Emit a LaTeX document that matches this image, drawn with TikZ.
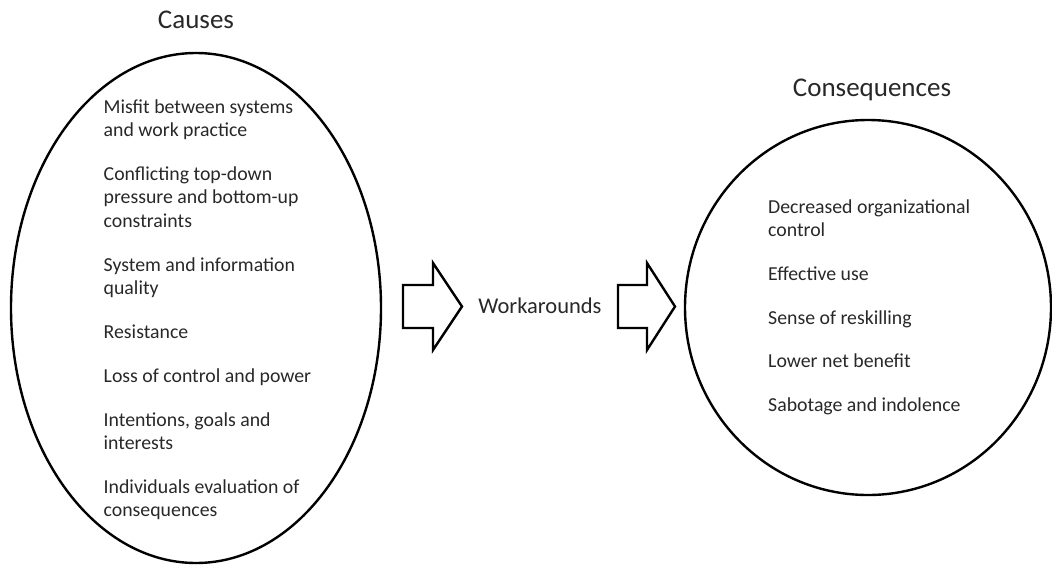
\documentclass[tikz,border=0pt]{standalone}
\usepackage{fontspec}
\setmainfont{Carlito}
\usetikzlibrary{shapes.geometric}
\definecolor{txt}{RGB}{40,40,40}
\begin{document}
\begin{tikzpicture}[x=1pt,y=-1pt,
  outline/.style={draw, ellipse, line width=2.4pt, inner sep=0pt},
  item/.style={anchor=base west, inner sep=0pt, align=left, text=txt,
    font=\fontsize{19.8}{23.5}\selectfont},
  heading/.style={anchor=base, inner sep=0pt, text=txt,
    font=\fontsize{27}{32}\selectfont},
  blockarrow/.style={draw, line width=2.4pt, line join=miter, fill=white}]
\useasboundingbox (0,0) rectangle (1052,565);
% containers
\node[outline, minimum width=370pt, minimum height=510pt] (causes) at (196,308) {};
\node[outline, minimum width=366pt, minimum height=375pt] (conseq) at (868,307.5) {};
% titles
\node[heading] (tcauses) at (196,28) {Causes};
\node[heading] (tconseq) at (872,96) {Consequences};
% causes (anchored at the baseline of the last line)
\node[item] (c1) at (103.5,136.5) {Misfit between systems\\and work practice};
\node[item] (c2) at (103.5,227.3) {Conflicting top-down\\pressure and bottom-up\\constraints};
\node[item] (c3) at (103.5,294.6) {System and information\\quality};
\node[item] (c4) at (103.5,338.4) {Resistance};
\node[item] (c5) at (103.5,382.2) {Loss of control and power};
\node[item] (c6) at (103.5,449.5) {Intentions, goals and\\interests};
\node[item] (c7) at (103.5,516.8) {Individuals evaluation of\\consequences};
% consequences
\node[item] (q1) at (768,236.5) {Decreased organizational\\control};
\node[item] (q2) at (768,280.5) {Effective use};
\node[item] (q3) at (768,324) {Sense of reskilling};
\node[item] (q4) at (768,367.5) {Lower net benefit};
\node[item] (q5) at (768,411) {Sabotage and indolence};
% middle
\node[anchor=base, inner sep=0pt, text=txt, font=\fontsize{22.5}{27}\selectfont] (work) at (540,313) {Workarounds};
\draw[blockarrow] (403,285) -- (433,285) -- (433,263) -- (462,306.5) -- (433,350) -- (433,328) -- (403,328) -- cycle;
\draw[blockarrow] (618,285) -- (647,285) -- (647,263) -- (675,306.5) -- (647,350) -- (647,328) -- (618,328) -- cycle;
\end{tikzpicture}
\end{document}
